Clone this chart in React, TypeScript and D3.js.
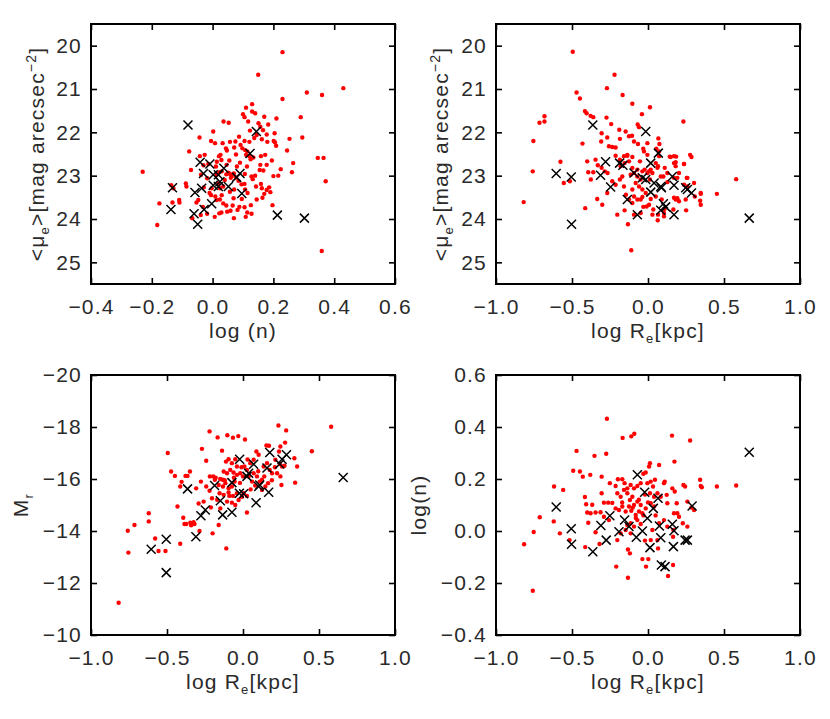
import { useEffect, useRef } from "react";
import * as d3 from "d3";

type Pt = [number, number];

// tick values
const xTicksN = [-0.4, -0.2, 0, 0.2, 0.4, 0.6];
const xTicksRe = [-1, -0.5, 0, 0.5, 1];
const yTicksMu = [20, 21, 22, 23, 24, 25];
const yTicksMr = [-20, -18, -16, -14, -12, -10];
const yTicksLogN = [-0.4, -0.2, 0, 0.2, 0.4, 0.6];

// panel 1: log(n) vs <mu_e>
const muNRed: Pt[] = [
  [0.23,20.15],[0.15,20.67],[0.43,20.98],[0.31,21.08],[0.36,21.14],[0.23,21.23],[0.13,21.35],[0.11,21.43],
  [0.13,21.52],[0.14,21.56],[0.10,21.58],[0.105,21.65],[0.17,21.64],[0.21,21.68],[0.29,21.65],[0.036,21.75],
  [0.053,21.78],[0.117,21.75],[0.151,21.79],[0.157,21.87],[0.166,21.95],[0.183,21.82],[0.002,21.98],[0.123,21.96],
  [0.145,22.06],[0.087,22.10],[-0.043,22.12],[-0.005,22.20],[0.008,22.25],[0.033,22.25],[0.057,22.22],[0.075,22.21],
  [0.105,22.20],[0.121,22.22],[0.137,22.13],[0.162,22.16],[0.178,22.05],[0.204,22.02],[0.253,22.15],[0.295,22.12],
  [0.044,22.37],[0.047,22.42],[0.071,22.35],[0.092,22.29],[0.098,22.37],[0.107,22.41],[0.114,22.44],[0.180,22.22],
  [0.201,22.20],[0.205,22.23],[0.209,22.31],[0.245,22.42],[-0.077,22.44],[-0.042,22.55],[-0.026,22.52],[0.021,22.55],
  [0.026,22.52],[0.029,22.64],[0.077,22.51],[0.110,22.52],[0.121,22.55],[0.134,22.58],[0.125,22.62],[0.159,22.55],
  [0.173,22.52],[0.195,22.65],[0.265,22.71],[0.346,22.59],[0.365,22.59],[-0.071,22.87],[-0.030,22.76],[-0.014,22.73],
  [0.011,22.79],[0.014,22.68],[0.055,22.65],[0.046,22.75],[0.080,22.79],[0.113,22.79],[0.157,22.75],[0.178,22.75],
  [0.224,22.85],[0.261,22.92],[-0.230,22.91],[-0.088,23.18],[-0.086,23.25],[-0.136,23.22],[-0.129,23.29],[-0.038,22.98],
  [-0.018,23.06],[0.013,22.98],[0.022,22.92],[0.019,23.18],[0.052,22.93],[0.057,22.96],[0.063,23.01],[0.070,22.95],
  [0.077,23.04],[0.106,22.96],[0.128,23.02],[0.132,23.08],[0.155,22.87],[0.167,22.88],[0.200,23.01],[0.216,23.00],
  [0.372,23.13],[-0.029,23.27],[-0.003,23.29],[0.024,23.29],[0.035,23.25],[0.057,23.37],[0.071,23.32],[0.105,23.19],
  [0.107,23.32],[0.143,23.25],[0.159,23.19],[0.162,23.29],[0.186,23.27],[0.178,23.33],[0.170,23.42],[0.164,23.51],
  [0.190,23.38],[-0.175,23.64],[-0.132,23.62],[-0.110,23.56],[-0.109,23.62],[-0.053,23.62],[-0.047,23.56],[-0.032,23.72],
  [-0.005,23.45],[0.009,23.48],[0.013,23.56],[0.024,23.55],[0.035,23.64],[0.045,23.69],[0.069,23.52],[0.096,23.54],
  [0.066,23.69],[0.088,23.72],[0.105,23.73],[0.126,23.68],[0.145,23.55],[0.197,23.68],[-0.182,24.14],[-0.067,23.98],
  [-0.039,23.91],[-0.018,23.88],[0.007,23.95],[0.022,23.87],[0.029,23.85],[0.048,23.83],[0.059,23.81],[0.082,23.79],
  [0.070,23.98],[0.109,23.95],[0.114,23.85],[0.128,23.88],[0.359,24.74],[0.045,22.97],[0.060,23.05],[0.040,23.10],
  [0.085,23.12],[0.095,23.20],[-0.010,23.40],[0.030,23.45],[0.115,23.40],[0.140,23.00],[0.090,22.70],[0.030,22.90],
];
const muNCross: Pt[] = [
  [-0.081,21.83],[0.144,21.98],[0.123,22.49],[-0.041,22.69],[-0.009,22.73],[-0.030,22.95],[0.002,22.98],[0.019,22.98],
  [0.037,22.83],[0.079,23.04],[0.090,22.95],[-0.058,23.39],[-0.036,23.29],[0.002,23.22],[0.019,23.25],[0.024,23.14],
  [0.052,23.25],[0.096,23.41],[-0.132,23.28],[-0.137,23.78],[-0.061,23.88],[-0.049,24.12],[-0.028,23.78],[-0.003,23.65],
  [0.213,23.91],[0.302,23.98],
];

// panel 2: log Re vs <mu_e>
const muReRed: Pt[] = [
  [-0.495,20.14],[-0.220,20.67],[-0.470,21.08],[-0.270,20.98],[-0.448,21.22],[-0.167,21.14],[0.013,21.42],[-0.103,21.34],
  [-0.681,21.63],[-0.681,21.75],[-0.714,21.78],[-0.754,22.2],[-0.758,22.9],[-0.818,23.61],[-0.415,21.51],[-0.404,21.56],
  [-0.378,21.62],[-0.36,21.65],[-0.273,21.66],[-0.242,21.81],[-0.040,21.58],[0.233,21.75],[-0.576,22.68],[-0.554,23.17],
  [-0.514,23.13],[-0.431,22.26],[-0.413,23.75],[-0.305,22.02],[-0.268,22.12],[-0.308,22.21],[-0.257,22.32],[-0.235,22.34],
  [-0.213,22.35],[-0.189,21.94],[-0.185,22.15],[-0.147,21.98],[-0.125,22.09],[-0.105,22.08],[-0.068,21.82],[-0.059,21.88],
  [-0.092,22.21],[-0.066,22.27],[-0.031,22.38],[-0.004,22.25],[0.068,22.14],[0.075,22.27],[0.055,22.38],[0.073,22.44],
  [-0.4,22.67],[-0.345,22.63],[-0.33,22.76],[-0.36,22.92],[-0.393,22.92],[-0.376,23.09],[-0.305,22.82],[-0.284,22.9],
  [-0.266,22.94],[-0.213,22.54],[-0.185,22.63],[-0.158,22.55],[-0.136,22.52],[-0.18,22.78],[-0.154,22.71],[-0.125,22.67],
  [-0.235,23.13],[-0.213,23.21],[-0.185,23.09],[-0.103,22.82],[-0.092,22.94],[-0.07,23.02],[-0.048,23.09],[-0.081,23.17],
  [-0.059,23.25],[-0.037,23.32],[-0.103,23.32],[-0.022,22.86],[0.007,22.9],[0.029,22.94],[0.013,23.09],[0.051,22.71],
  [0.066,22.78],[0.073,22.55],[0.143,22.56],[0.171,22.55],[0.185,22.56],[0.171,22.71],[0.182,22.78],[0.277,22.52],
  [0.286,22.57],[0.237,22.73],[0.11,22.82],[0.101,23.02],[0.127,23.15],[0.171,23.05],[0.204,22.94],[0.237,23.21],
  [0.259,23.25],[0.255,23.05],[-0.268,23.4],[-0.334,23.54],[-0.301,23.67],[-0.158,23.25],[-0.145,23.44],[-0.125,23.55],
  [-0.202,23.9],[-0.154,23.8],[-0.103,23.63],[-0.07,23.55],[-0.037,23.49],[-0.015,23.4],[-0.092,23.9],[-0.048,23.86],
  [-0.009,23.71],[0.018,23.54],[0.035,23.78],[0.066,23.9],[0.064,24.03],[0.09,23.55],[0.108,23.77],[0.105,23.94],
  [0.167,23.78],[0.182,23.55],[0.193,23.52],[0.248,23.55],[0.251,23.8],[0.308,23.48],[0.347,23.4],[0.343,23.58],
  [0.347,23.67],[0.453,23.42],[0.580,23.08],[-0.132,24.12],[-0.11,24.72],[-0.070,22.86],[-0.037,22.90],[-0.004,22.94],
  [0.018,22.86],[0.062,22.82],[0.084,23.02],[0.127,22.94],[-0.114,22.98],[-0.169,23.02],[-0.048,23.55],[0.007,23.67],
  [0.051,23.48],[-0.092,23.48],[-0.031,23.72],[-0.136,22.54],[-0.103,22.57],[-0.026,22.44],[-0.004,22.52],[-0.053,22.67],
  [0.149,22.57],[0.182,22.69],[0.237,22.73],[0.193,23.05],[0.259,23.05],[0.303,23.17],[0.347,23.42],[0.171,23.51],
  [0.204,23.59],[0.105,23.86],[0.029,23.90],
];
const muReCross: Pt[] = [
  [-0.363,21.83],[-0.015,21.98],[0.068,22.48],[-0.279,22.68],[-0.187,22.71],[-0.165,22.76],[-0.312,22.99],[-0.246,23.26],
  [-0.604,22.95],[-0.505,23.03],[-0.503,24.12],[-0.092,22.94],[-0.037,23.05],[-0.015,23.09],[0.018,22.71],[0.040,23.17],
  [0.018,23.38],[0.084,23.25],[0.088,23.28],[0.160,23.02],[0.171,23.22],[-0.136,23.55],[-0.070,23.9],[0.084,23.8],
  [0.101,23.65],[0.116,23.72],[0.171,23.9],[0.248,23.28],[0.259,23.32],[0.286,23.4],[0.666,23.98],
];

// panel 3: log Re vs M_r
const mrReRed: Pt[] = [
  [-0.818,-11.24],[-0.754,-13.17],[-0.758,-14.01],[-0.714,-14.23],[-0.62,-14.68],[-0.62,-14.37],[-0.578,-13.71],[-0.556,-13.23],
  [-0.51,-13.23],[-0.413,-13.51],[-0.495,-17.0],[-0.473,-16.29],[-0.448,-16.12],[-0.431,-14.94],[-0.413,-15.71],[-0.404,-15.89],
  [-0.378,-16.12],[-0.365,-16.12],[-0.349,-16.29],[-0.393,-14.51],[-0.385,-14.27],[-0.374,-14.27],[-0.347,-14.32],[-0.341,-14.22],
  [-0.325,-14.34],[-0.319,-14.27],[-0.308,-15.64],[-0.292,-15.06],[-0.277,-15.9],[-0.286,-14.0],[-0.270,-17.16],[-0.259,-15.13],
  [-0.242,-15.71],[-0.242,-16.70],[-0.220,-17.83],[-0.211,-14.91],[-0.204,-15.26],[-0.2,-13.91],[-0.218,-16.1],[-0.196,-16.1],
  [-0.185,-15.97],[-0.167,-17.6],[-0.160,-14.23],[-0.149,-14.87],[-0.138,-17.09],[-0.132,-15.97],[-0.11,-13.33],[-0.103,-17.68],
  [-0.066,-17.59],[-0.031,-17.65],[0.013,-17.52],[-0.112,-16.67],[-0.095,-16.76],[-0.073,-16.61],[-0.051,-16.76],[-0.04,-16.48],
  [-0.127,-16.29],[-0.105,-16.22],[-0.084,-16.35],[-0.062,-16.25],[-0.04,-16.16],[-0.16,-15.77],[-0.132,-15.71],[-0.116,-15.84],
  [-0.095,-15.64],[-0.073,-15.71],[-0.055,-15.9],[-0.154,-15.45],[-0.127,-15.39],[-0.095,-15.48],[-0.066,-15.35],[-0.04,-15.45],
  [-0.105,-15.13],[-0.073,-15.09],[-0.051,-15.0],[-0.029,-15.19],[-0.007,-15.32],[0.004,-15.45],[0.026,-15.35],[0.026,-14.71],
  [-0.018,-16.22],[0.009,-16.48],[0.026,-16.35],[0.037,-16.1],[0.048,-16.61],[0.07,-16.74],[0.088,-17.06],[0.103,-16.93],
  [0.07,-16.22],[0.092,-16.1],[0.11,-15.9],[0.125,-15.97],[0.136,-16.48],[0.158,-16.61],[0.176,-16.35],[0.191,-16.22],
  [0.125,-15.58],[0.147,-15.71],[0.165,-15.84],[0.154,-17.29],[0.171,-17.28],[0.233,-18.06],[0.284,-17.87],[0.277,-17.40],
  [0.246,-17.25],[0.237,-17.06],[0.213,-16.74],[0.242,-16.58],[0.257,-16.48],[0.273,-16.51],[0.224,-16.22],[0.246,-16.1],
  [0.253,-15.77],[0.338,-16.8],[0.356,-16.48],[0.343,-15.86],[0.453,-17.07],[0.580,-18.01],[-0.18,-16.05],[-0.15,-16.0],
  [-0.02,-15.85],[0.05,-15.6],[0.08,-15.75],[-0.01,-16.45],[0.10,-16.3],[0.19,-15.95],[0.21,-16.45],[-0.22,-15.55],
  [-0.12,-15.95],[-0.06,-16.05],[0.0,-16.1],[0.06,-15.9],[-0.09,-15.35],[0.14,-16.1],[-0.17,-15.2],[0.03,-16.75],
];
const mrReCross: Pt[] = [
  [-0.604,-13.30],[-0.505,-13.68],[-0.505,-12.40],[-0.365,-15.62],[-0.310,-13.78],[-0.277,-14.59],[-0.248,-14.81],[-0.187,-15.75],
  [-0.149,-15.16],[-0.134,-14.62],[-0.073,-14.72],[-0.073,-15.86],[-0.022,-16.76],[-0.024,-15.45],[0.004,-15.43],[0.026,-16.10],
  [0.037,-16.22],[0.070,-16.57],[0.086,-15.09],[0.103,-15.71],[0.11,-15.77],[0.158,-16.42],[0.169,-15.49],[0.176,-17.02],
  [0.242,-16.58],[0.257,-16.76],[0.286,-16.93],[0.659,-16.06],
];

// panel 4: log Re vs log(n)
const nReRed: Pt[] = [
  [-0.270,0.432],[-0.167,0.358],[-0.110,0.364],[-0.090,0.374],[0.158,0.367],[0.277,0.348],[-0.470,0.308],[-0.275,0.297],
  [-0.352,0.289],[0.174,0.267],[-0.618,0.171],[-0.558,0.158],[-0.492,0.232],[-0.448,0.229],[-0.429,0.209],[-0.380,0.216],
  [-0.305,0.209],[-0.712,0.053],[-0.752,-0.004],[-0.815,-0.051],[-0.758,-0.230],[-0.620,0.037],[-0.580,-0.009],[-0.516,-0.035],
  [-0.415,0.131],[-0.407,0.103],[-0.367,0.101],[-0.4,0.071],[-0.378,0.068],[-0.345,0.071],[-0.312,0.072],[-0.393,0.032],
  [-0.345,-0.005],[-0.319,-0.05],[-0.413,-0.062],[-0.305,0.145],[-0.290,0.109],[-0.262,0.109],[-0.235,0.108],[-0.251,0.184],
  [-0.213,0.173],[-0.198,0.199],[-0.169,0.199],[-0.154,0.184],[-0.202,0.145],[-0.180,0.132],[-0.158,0.158],[-0.136,0.145],
  [-0.213,0.087],[-0.191,0.081],[-0.169,0.094],[-0.147,0.075],[-0.119,0.119],[-0.103,0.132],[-0.092,0.1],[-0.07,0.113],
  [-0.048,0.1],[-0.125,0.094],[-0.110,0.078],[-0.081,0.062],[-0.059,0.075],[-0.037,0.068],[-0.015,0.087],[-0.136,0.164],
  [-0.114,0.177],[-0.092,0.164],[-0.07,0.173],[-0.048,0.184],[-0.031,0.22],[-0.015,0.225],[0.007,0.248],[0.013,0.261],
  [-0.004,0.184],[0.018,0.19],[0.033,0.171],[0.046,0.197],[0.013,0.145],[0.040,0.132],[0.062,0.145],[0.084,0.132],
  [0.018,0.107],[0.040,0.094],[0.073,0.254],[0.105,0.184],[0.110,0.19],[0.123,0.139],[0.127,0.107],[0.160,0.164],
  [0.176,0.152],[0.189,0.107],[0.193,0.068],[0.204,0.055],[0.233,0.177],[0.244,0.171],[0.259,0.113],[0.286,0.09],
  [0.303,0.081],[0.343,0.197],[0.347,0.173],[0.354,0.168],[0.453,0.171],[0.580,0.175],[0.259,0.017],[0.229,0.03],
  [0.171,0.068],[0.167,0.004],[0.165,-0.022],[0.066,-0.067],[0.062,-0.035],[0.029,0.004],[0.018,-0.035],[-0.048,0.027],
  [-0.07,0.042],[-0.092,0.017],[-0.114,0.03],[-0.136,0.023],[-0.147,0.004],[-0.114,-0.009],[-0.180,-0.009],[-0.202,-0.035],
  [-0.132,-0.071],[-0.119,-0.086],[-0.037,-0.108],[0.002,-0.108],[-0.013,-0.137],[-0.209,-0.137],[-0.132,-0.180],[0.165,-0.131],
  [0.132,-0.173],[-0.020,-0.037],[-0.29,0.055],[-0.257,0.042],[0.105,0.042],[0.127,0.017],[0.073,0.03],[-0.10,0.09],
  [-0.06,0.12],[-0.03,0.06],[0.0,0.11],[-0.08,0.05],[0.05,0.06],[-0.17,0.11],[-0.02,0.14],
];
const nReCross: Pt[] = [
  [-0.604,0.092],[-0.505,0.009],[-0.503,-0.051],[-0.363,-0.080],[-0.310,0.021],[-0.275,-0.035],[-0.251,0.059],[-0.191,-0.003],
  [-0.154,0.042],[-0.125,0.017],[-0.070,0.216],[-0.077,-0.024],[-0.037,0.000],[-0.022,0.149],[-0.004,0.049],[0.013,-0.064],
  [0.035,0.087],[0.066,0.126],[0.075,0.019],[0.084,-0.026],[0.088,-0.131],[0.112,-0.137],[0.160,0.026],[0.171,0.001],
  [0.167,-0.060],[0.244,-0.035],[0.259,-0.035],[0.290,0.096],[0.666,0.303],
];

type Part = { t: string; sub?: boolean; sup?: boolean };

const FONT = "'Liberation Sans', Arial, sans-serif";
const TXT = "#2a2a2a";

function writeParts(text: any, parts: Part[]) {
  let shift = 0;
  parts.forEach((p) => {
    const target = p.sub ? 5 : p.sup ? -8 : 0;
    const ts = text.append("tspan").attr("dy", target - shift).text(p.t);
    if (p.sub) ts.attr("font-size", 13);
    if (p.sup) ts.attr("font-size", 14);
    shift = target;
  });
}

export default function App() {
  const ref = useRef<SVGSVGElement | null>(null);

  useEffect(() => {
    draw();
  }, []);

  function draw() {
    const svg = d3.select(ref.current);
    svg.selectAll("*").remove();

    const W = 304;
    const H = 260;
    const fmt1 = d3.format(".1f");
    const fmt0 = d3.format("d");

    const muTitle: Part[] = [
      { t: "<μ" }, { t: "e", sub: true }, { t: ">[mag arecsec" }, { t: "−2", sup: true }, { t: "]" },
    ];
    const reTitle: Part[] = [{ t: "log R" }, { t: "e", sub: true }, { t: "[kpc]" }];

    const panels = [
      {
        left: 91, top: 24, xDom: [-0.4, 0.6], yDom: [19.5, 25.5], yDown: true,
        xTicks: xTicksN, yTicks: yTicksMu, xFmt: fmt1, yFmt: fmt0,
        red: muNRed, cross: muNCross, xTitle: [{ t: "log (n)" }], yTitle: muTitle, yTitleX: 44,
      },
      {
        left: 496, top: 24, xDom: [-1, 1], yDom: [19.5, 25.5], yDown: true,
        xTicks: xTicksRe, yTicks: yTicksMu, xFmt: fmt1, yFmt: fmt0,
        red: muReRed, cross: muReCross, xTitle: reTitle, yTitle: muTitle, yTitleX: 448,
      },
      {
        left: 91, top: 375, xDom: [-1, 1], yDom: [-20, -10], yDown: true,
        xTicks: xTicksRe, yTicks: yTicksMr, xFmt: fmt1, yFmt: fmt0,
        red: mrReRed, cross: mrReCross, xTitle: reTitle, yTitle: [{ t: "M" }, { t: "r", sub: true }], yTitleX: 28,
      },
      {
        left: 496, top: 375, xDom: [-1, 1], yDom: [-0.4, 0.6], yDown: false,
        xTicks: xTicksRe, yTicks: yTicksLogN, xFmt: fmt1, yFmt: fmt1,
        red: nReRed, cross: nReCross, xTitle: reTitle, yTitle: [{ t: "log(n)" }], yTitleX: 426,
      },
    ];

    panels.forEach((p) => {
      const g = svg.append("g").attr("transform", `translate(${p.left},${p.top})`);
      const x = d3.scaleLinear().domain(p.xDom).range([0, W]);
      const y = d3.scaleLinear().domain(p.yDom).range(p.yDown ? [0, H] : [H, 0]);

      g.selectAll("circle.red")
        .data(p.red)
        .enter()
        .append("circle")
        .attr("class", "red")
        .attr("cx", (d) => x(d[0]))
        .attr("cy", (d) => y(d[1]))
        .attr("r", 2.2)
        .attr("fill", "#ff0000");

      g.selectAll("path.cross")
        .data(p.cross)
        .enter()
        .append("path")
        .attr("class", "cross")
        .attr("transform", (d) => `translate(${x(d[0])},${y(d[1])})`)
        .attr("d", "M-4.5,-4.5L4.5,4.5M-4.5,4.5L4.5,-4.5")
        .attr("stroke", "#000")
        .attr("stroke-width", 1.5)
        .attr("fill", "none");

      const style = (ax: any) => {
        ax.select(".domain").remove();
        ax.selectAll("line").attr("stroke", "#000").attr("stroke-width", 1.6);
        ax.selectAll("text")
          .attr("font-size", 21)
          .attr("font-family", FONT)
          .attr("letter-spacing", 1.2)
          .attr("fill", TXT);
      };

      g.append("g")
        .attr("transform", `translate(0,${H})`)
        .call(d3.axisBottom(x).tickValues(p.xTicks).tickSize(-6).tickPadding(15).tickFormat(p.xFmt as any))
        .call(style);
      g.append("g")
        .call(d3.axisTop(x).tickValues(p.xTicks).tickSize(-6).tickFormat(() => ""))
        .call(style);
      g.append("g")
        .call(d3.axisLeft(y).tickValues(p.yTicks).tickSize(-6).tickPadding(9).tickFormat(p.yFmt as any))
        .call(style);
      g.append("g")
        .attr("transform", `translate(${W},0)`)
        .call(d3.axisRight(y).tickValues(p.yTicks).tickSize(-6).tickFormat(() => ""))
        .call(style);

      g.append("rect")
        .attr("width", W)
        .attr("height", H)
        .attr("fill", "none")
        .attr("stroke", "#000")
        .attr("stroke-width", 2);

      const xt = svg.append("text")
        .attr("x", p.left + W / 2)
        .attr("y", p.top + H + 54)
        .attr("text-anchor", "middle")
        .attr("font-size", 21)
        .attr("font-family", FONT)
        .attr("letter-spacing", 1.2)
        .attr("fill", TXT);
      writeParts(xt, p.xTitle);

      const cy = p.top + H / 2;
      const yt = svg.append("text")
        .attr("x", p.yTitleX)
        .attr("y", cy)
        .attr("transform", `rotate(-90,${p.yTitleX},${cy})`)
        .attr("text-anchor", "middle")
        .attr("font-size", 21)
        .attr("font-family", FONT)
        .attr("letter-spacing", 1.2)
        .attr("fill", TXT);
      writeParts(yt, p.yTitle);
    });
  }

  return (
    <svg
      ref={ref}
      width={830}
      height={719}
      style={{ position: "absolute", left: 0, top: 0, background: "#fff" }}
    />
  );
}
